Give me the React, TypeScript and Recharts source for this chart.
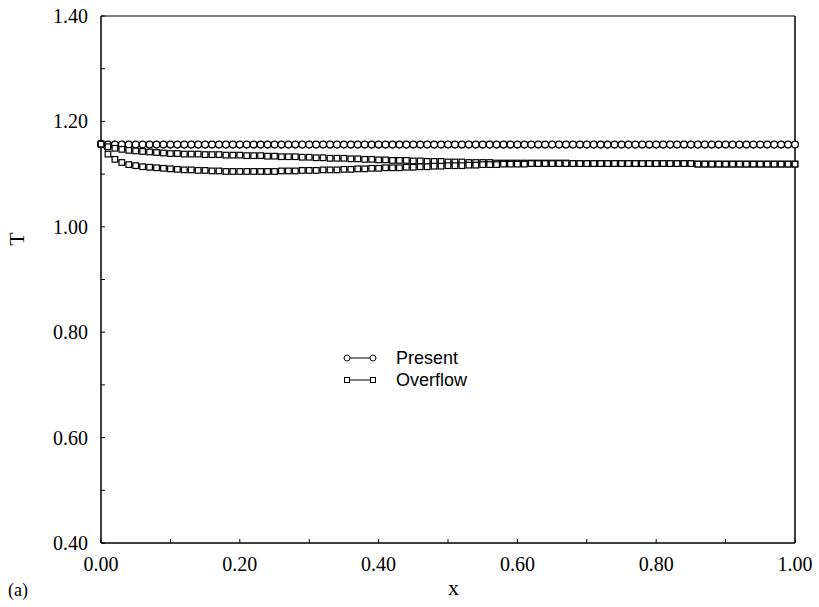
import React from "react";
import { LineChart, Line, XAxis, YAxis, ReferenceArea } from "recharts";

const xValues = [
  0, 0.01, 0.02, 0.03, 0.04, 0.05, 0.06, 0.07, 0.08, 0.09,
  0.1, 0.11, 0.12, 0.13, 0.14, 0.15, 0.16, 0.17, 0.18, 0.19,
  0.2, 0.21, 0.22, 0.23, 0.24, 0.25, 0.26, 0.27, 0.28, 0.29,
  0.3, 0.31, 0.32, 0.33, 0.34, 0.35, 0.36, 0.37, 0.38, 0.39,
  0.4, 0.41, 0.42, 0.43, 0.44, 0.45, 0.46, 0.47, 0.48, 0.49,
  0.5, 0.51, 0.52, 0.53, 0.54, 0.55, 0.56, 0.57, 0.58, 0.59,
  0.6, 0.61, 0.62, 0.63, 0.64, 0.65, 0.66, 0.67, 0.68, 0.69,
  0.7, 0.71, 0.72, 0.73, 0.74, 0.75, 0.76, 0.77, 0.78, 0.79,
  0.8, 0.81, 0.82, 0.83, 0.84, 0.85, 0.86, 0.87, 0.88, 0.89,
  0.9, 0.91, 0.92, 0.93, 0.94, 0.95, 0.96, 0.97, 0.98, 0.99,
  1.0,
];

const presentT = [
  1.157, 1.156, 1.156, 1.156, 1.156, 1.156, 1.156, 1.156, 1.156, 1.156,
  1.156, 1.156, 1.156, 1.156, 1.156, 1.156, 1.156, 1.156, 1.156, 1.156,
  1.156, 1.156, 1.156, 1.156, 1.156, 1.156, 1.156, 1.156, 1.156, 1.156,
  1.156, 1.156, 1.156, 1.156, 1.156, 1.156, 1.156, 1.156, 1.156, 1.156,
  1.156, 1.156, 1.156, 1.156, 1.156, 1.156, 1.156, 1.156, 1.156, 1.156,
  1.156, 1.156, 1.156, 1.156, 1.156, 1.156, 1.156, 1.156, 1.156, 1.156,
  1.156, 1.156, 1.156, 1.156, 1.156, 1.156, 1.156, 1.156, 1.156, 1.156,
  1.156, 1.156, 1.156, 1.156, 1.156, 1.156, 1.156, 1.156, 1.156, 1.156,
  1.156, 1.156, 1.156, 1.156, 1.156, 1.156, 1.156, 1.156, 1.156, 1.156,
  1.156, 1.156, 1.156, 1.156, 1.156, 1.156, 1.156, 1.156, 1.156, 1.156,
  1.156,
];

// overflow boundary condition gives two curves
const overflowUpperT = [
  1.157, 1.152, 1.149, 1.147, 1.145, 1.144, 1.143, 1.142, 1.141, 1.140,
  1.139, 1.139, 1.138, 1.138, 1.138, 1.137, 1.137, 1.137, 1.136, 1.136,
  1.136, 1.135, 1.135, 1.135, 1.134, 1.134, 1.133, 1.133, 1.133, 1.132,
  1.132, 1.131, 1.131, 1.130, 1.130, 1.130, 1.129, 1.129, 1.128, 1.128,
  1.127, 1.127, 1.126, 1.126, 1.126, 1.125, 1.125, 1.124, 1.124, 1.124,
  1.123, 1.123, 1.123, 1.122, 1.122, 1.122, 1.122, 1.121, 1.121, 1.121,
  1.121, 1.121, 1.121, 1.121, 1.121, 1.121, 1.121, 1.121, 1.120, 1.120,
  1.120, 1.120, 1.120, 1.120, 1.120, 1.120, 1.120, 1.120, 1.120, 1.120,
  1.120, 1.120, 1.120, 1.120, 1.120, 1.120, 1.119, 1.119, 1.119, 1.119,
  1.119, 1.119, 1.119, 1.119, 1.119, 1.119, 1.119, 1.119, 1.119, 1.119,
  1.119,
];

const overflowLowerT = [
  1.157, 1.138, 1.128, 1.122, 1.118, 1.116, 1.114, 1.113, 1.112, 1.111,
  1.110, 1.109, 1.108, 1.108, 1.107, 1.107, 1.106, 1.106, 1.105, 1.105,
  1.105, 1.105, 1.105, 1.105, 1.105, 1.105, 1.106, 1.106, 1.106, 1.107,
  1.107, 1.107, 1.108, 1.108, 1.108, 1.109, 1.109, 1.110, 1.110, 1.111,
  1.111, 1.112, 1.112, 1.112, 1.113, 1.113, 1.114, 1.114, 1.115, 1.115,
  1.116, 1.116, 1.116, 1.117, 1.117, 1.118, 1.118, 1.118, 1.119, 1.119,
  1.119, 1.119, 1.120, 1.120, 1.120, 1.120, 1.120, 1.120, 1.120, 1.120,
  1.120, 1.120, 1.120, 1.120, 1.120, 1.120, 1.120, 1.120, 1.120, 1.120,
  1.120, 1.120, 1.120, 1.120, 1.120, 1.120, 1.119, 1.119, 1.119, 1.119,
  1.119, 1.119, 1.119, 1.119, 1.119, 1.119, 1.119, 1.119, 1.119, 1.119,
  1.119,
];

const xTicks = [0, 0.1, 0.2, 0.3, 0.4, 0.5, 0.6, 0.7, 0.8, 0.9, 1.0];
const yTicks = [0.4, 0.5, 0.6, 0.7, 0.8, 0.9, 1.0, 1.1, 1.2, 1.3, 1.4];

const data = xValues.map((x, i) => ({
  x,
  present: presentT[i],
  overflowUpper: overflowUpperT[i],
  overflowLower: overflowLowerT[i],
}));

const serif = "'Liberation Serif', 'Times New Roman', serif";
const sans = "'Liberation Sans', Arial, sans-serif";

const isMajor = (v: number) => Math.round(v * 10) % 2 === 0;

const XTick = (props: any) => {
  const { x, y, payload } = props;
  if (!isMajor(payload.value)) return <g />;
  return (
    <text x={x} y={y + 13} textAnchor="middle" fontFamily={serif} fontSize={20} fill="#000">
      {payload.value.toFixed(2)}
    </text>
  );
};

const YTick = (props: any) => {
  const { x, y, payload } = props;
  if (!isMajor(payload.value)) return <g />;
  return (
    <text x={x} y={y + 7} textAnchor="end" fontFamily={serif} fontSize={20} fill="#000">
      {payload.value.toFixed(2)}
    </text>
  );
};

const CircleDot = (p: any) => (
  <circle key={`c${p.index}`} cx={p.cx} cy={p.cy} r={3.4} fill="#fff" stroke="#000" strokeWidth={1.3} />
);

const SquareDot = (p: any) => (
  <rect key={`s${p.index}`} x={p.cx - 2.8} y={p.cy - 2.8} width={5.6} height={5.6} fill="#fff" stroke="#000" strokeWidth={1.2} />
);

const LegendBox = () => (
  <svg width={160} height={46} style={{ display: "block" }}>
    <line x1={7} y1={11} x2={33} y2={11} stroke="#000" strokeWidth={1} />
    <circle cx={7} cy={11} r={3} fill="#fff" stroke="#000" />
    <circle cx={33} cy={11} r={3} fill="#fff" stroke="#000" />
    <text x={56} y={17} fontFamily={sans} fontSize={18} fill="#000">Present</text>
    <line x1={7} y1={33} x2={33} y2={33} stroke="#000" strokeWidth={1} />
    <rect x={4.5} y={30.5} width={5} height={5} fill="#fff" stroke="#000" />
    <rect x={30.5} y={30.5} width={5} height={5} fill="#fff" stroke="#000" />
    <text x={56} y={39} fontFamily={sans} fontSize={18} fill="#000">Overflow</text>
  </svg>
);

export default function App() {
  return (
    <div style={{ position: "absolute", left: 0, top: 0, width: 819, height: 607, background: "#fff" }}>
      <LineChart width={819} height={607} data={data} margin={{ top: 16, right: 0, bottom: 0, left: 0 }}>
        <XAxis
          dataKey="x"
          type="number"
          domain={[0, 1]}
          ticks={xTicks}
          height={64}
          tickSize={-4}
          tickMargin={19}
          interval={0}
          stroke="#000"
          tick={<XTick />}
        />
        <YAxis
          type="number"
          domain={[0.4, 1.4]}
          ticks={yTicks}
          width={101}
          tickSize={-4}
          tickMargin={17}
          interval={0}
          stroke="#000"
          tick={<YTick />}
        />
        <YAxis
          yAxisId="right"
          orientation="right"
          type="number"
          domain={[0.4, 1.4]}
          ticks={yTicks}
          width={24}
          tickSize={-4}
          interval={0}
          stroke="#000"
          tick={false}
        />
        <ReferenceArea x1={0} x2={1} y1={0.4} y2={1.4} fill="none" stroke="#000" strokeWidth={1} />
        <Line dataKey="present" name="Present" stroke="#000" strokeWidth={1} dot={CircleDot} activeDot={false} isAnimationActive={false} />
        <Line dataKey="overflowUpper" name="Overflow" stroke="#000" strokeWidth={1} dot={SquareDot} activeDot={false} isAnimationActive={false} />
        <Line dataKey="overflowLower" name="Overflow" stroke="#000" strokeWidth={1} dot={SquareDot} activeDot={false} isAnimationActive={false} legendType="none" />
      </LineChart>
      <div style={{ position: "absolute", left: 340, top: 347 }}>
        <LegendBox />
      </div>
      <div style={{ position: "absolute", left: 448, top: 575, fontFamily: serif, fontSize: 22 }}>x</div>
      <div style={{ position: "absolute", left: 10, top: 226, fontFamily: serif, fontSize: 22, transform: "rotate(-90deg)" }}>T</div>
      <div style={{ position: "absolute", left: 8, top: 580, fontFamily: serif, fontSize: 18 }}>(a)</div>
    </div>
  );
}
